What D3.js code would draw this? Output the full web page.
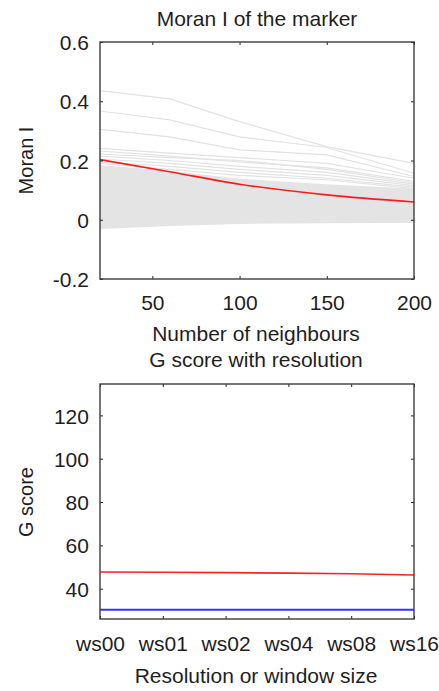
<!DOCTYPE html>
<html lang="en">

<head>
  <meta charset="UTF-8">
  <title>moran</title>
  <script src="https://cdn.jsdelivr.net/npm/d3@7"></script>
  <style>
    body { margin: 0; background: #fff; }
    text { font-family: "Liberation Sans", Arial, sans-serif; fill: #1e1e1e; }
  </style>
</head>

<body>
  <svg width="439" height="691"></svg>
  <script>
    // top panel: Moran I vs number of neighbours
    var neighbours = [20, 60, 100, 150, 200]
    var markerMoran = [0.203, 0.162, 0.12, 0.084, 0.06]
    // dense background of other genes, drawn as a band
    var bandLow = [-0.031, -0.021, -0.014, -0.012, -0.01]
    var bandHigh = [0.185, 0.165, 0.138, 0.12, 0.105]
    // the few background genes that stick out above the band
    var otherMoran = [
      [0.436, 0.408, 0.331, 0.247, 0.19],
      [0.367, 0.337, 0.28, 0.244, 0.157],
      [0.305, 0.28, 0.236, 0.219, 0.146],
      [0.241, 0.225, 0.21, 0.19, 0.14],
      [0.232, 0.215, 0.195, 0.175, 0.13],
      [0.222, 0.21, 0.2, 0.17, 0.125],
      [0.215, 0.2, 0.18, 0.16, 0.12],
      [0.205, 0.19, 0.17, 0.15, 0.115],
      [0.195, 0.18, 0.16, 0.14, 0.11],
      [0.19, 0.17, 0.15, 0.135, 0.105]
    ]
    var moranTicks = [-0.2, 0, 0.2, 0.4, 0.6]
    var neighbourTicks = [50, 100, 150, 200]

    // bottom panel: G score vs resolution
    var resolutions = ['ws00', 'ws01', 'ws02', 'ws04', 'ws08', 'ws16']
    var gMarker = [47.7, 47.6, 47.4, 47.2, 46.9, 46.3]
    var gBaseline = [30.3, 30.3, 30.3, 30.3, 30.3, 30.3]
    var gTicks = [40, 60, 80, 100, 120]

    var svg = d3.select('svg')
    var fs = 20
    var sx = 1.05
    var boxColor = '#3c3c3c'

    function stretch(sel) {
      sel.selectAll('text')
        .attr('font-size', fs)
        .attr('transform', `scale(${sx},1)`)
    }

    function label(txt, x, y, rotate) {
      svg.append('text')
        .attr('text-anchor', 'middle')
        .attr('font-size', fs)
        .attr('transform', `translate(${x},${y}) scale(${sx},1)` + (rotate ? ' rotate(-90)' : ''))
        .text(txt)
    }

    function frame(x, y, left, right, top, bottom, xTicks, yTicks, xFmt, yFmt, xPad) {
      var g = svg.append('g')
      g.append('g')
        .attr('transform', `translate(0,${bottom})`)
        .call(d3.axisBottom(x).tickValues(xTicks).tickSize(-3).tickPadding(xPad).tickFormat(xFmt))
        .call(stretch)
      g.append('g')
        .attr('transform', `translate(0,${top})`)
        .call(d3.axisTop(x).tickValues(xTicks).tickSize(-3).tickFormat(''))
      g.append('g')
        .attr('transform', `translate(${left},0)`)
        .call(d3.axisLeft(y).tickValues(yTicks).tickSize(-3).tickPadding(10.5).tickFormat(yFmt))
        .call(stretch)
        .selectAll('text').attr('dy', '0.38em')
      g.append('g')
        .attr('transform', `translate(${right},0)`)
        .call(d3.axisRight(y).tickValues(yTicks).tickSize(-3).tickFormat(''))
      g.selectAll('.domain').remove()
      g.selectAll('.tick line').attr('stroke', '#222')
      g.append('rect')
        .attr('x', left)
        .attr('y', top)
        .attr('width', right - left)
        .attr('height', bottom - top)
        .attr('fill', 'none')
        .attr('stroke', boxColor)
        .attr('stroke-width', 1.4)
      return g
    }

    // ---- top panel
    var x1 = d3.scaleLinear().domain([20, 200]).range([100, 414])
    var y1 = d3.scaleLinear().domain([-0.2, 0.6]).range([279, 42])

    var band = d3.area()
      .x((d, i) => x1(neighbours[i]))
      .y0(d => y1(d[0]))
      .y1(d => y1(d[1]))
    svg.append('path')
      .attr('d', band(d3.zip(bandLow, bandHigh)))
      .attr('fill', '#e4e4e4')

    var line1 = d3.line()
      .x((d, i) => x1(neighbours[i]))
      .y(d => y1(d))

    svg.append('g')
      .selectAll('path')
      .data(otherMoran)
      .enter()
      .append('path')
      .attr('d', line1)
      .attr('fill', 'none')
      .attr('stroke', '#e2e2e2')
      .attr('stroke-width', 1.2)

    svg.append('path')
      .attr('d', line1.curve(d3.curveMonotoneX)(markerMoran))
      .attr('fill', 'none')
      .attr('stroke', '#ff1a1a')
      .attr('stroke-width', 1.6)

    frame(x1, y1, 100, 414, 42, 279, neighbourTicks, moranTicks, d => String(d), d => String(d), 17)

    label('Moran I of the marker', 257, 26)
    label('Number of neighbours', 256, 341)
    label('Moran I', 33, 160.5, true)

    // ---- bottom panel
    var x2 = d3.scalePoint().domain(resolutions).range([100, 414])
    var y2 = d3.scaleLinear().domain([26, 134.5]).range([619, 384])

    var line2 = d3.line()
      .x((d, i) => x2(resolutions[i]))
      .y(d => y2(d))

    svg.append('path')
      .attr('d', line2(gBaseline))
      .attr('fill', 'none')
      .attr('stroke', '#3333ff')
      .attr('stroke-width', 2)

    svg.append('path')
      .attr('d', line2(gMarker))
      .attr('fill', 'none')
      .attr('stroke', '#ff2020')
      .attr('stroke-width', 1.6)

    frame(x2, y2, 100, 414, 384, 619, resolutions, gTicks, d => d, d => String(d), 18)

    label('G score with resolution', 256, 367)
    label('Resolution or window size', 256, 683)
    label('G score', 33, 502, true)
  </script>
</body>

</html>
